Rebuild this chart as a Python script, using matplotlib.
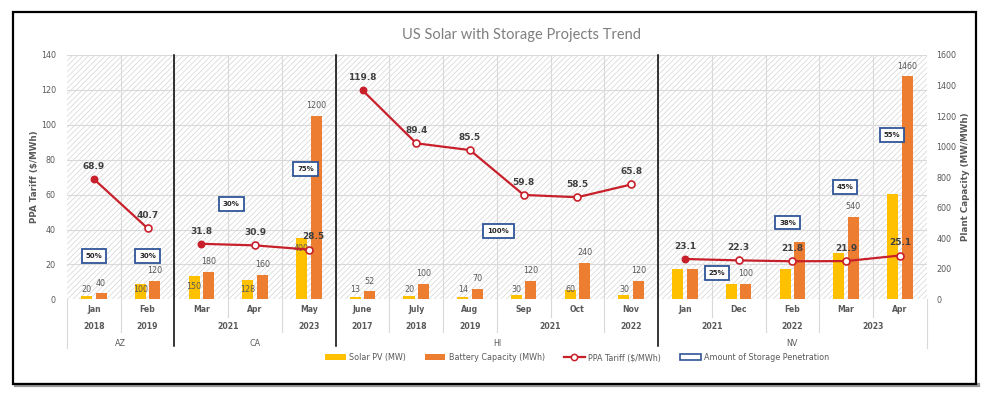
import matplotlib
matplotlib.use("Agg")
import matplotlib.pyplot as plt
from matplotlib.patches import Rectangle, Patch
from matplotlib.lines import Line2D
import matplotlib.transforms as mtransforms

# ---------------- data ----------------
states = ["AZ", "CA", "HI", "NV"]
state_sizes = [2, 3, 6, 5]
months = ["Jan", "Feb", "Mar", "Apr", "May",
          "June", "July", "Aug", "Sep", "Oct", "Nov",
          "Jan", "Dec", "Feb", "Mar", "Apr"]
years = ["2018", "2019", "2021", "2021", "2023",
         "2017", "2018", "2019", "2021", "2021", "2022",
         "2021", "2021", "2022", "2023", "2023"]
solar_pv = [20, 100, 150, 128, 400,
            13, 20, 14, 30, 60, 30,
            200, 100, 200, 300, 690]
battery = [40, 120, 180, 160, 1200,
           52, 100, 70, 120, 240, 120,
           200, 100, 375, 540, 1460]
solar_labels = ["20", "100", "150", "128", "400",
                "13", "20", "14", "30", "60", "30",
                "", "", "", "", ""]
battery_labels = ["40", "120", "180", "160", "1200",
                  "52", "100", "70", "120", "240", "120",
                  "", "100", "", "540", "1460"]
ppa_tariff = [68.9, 40.7, 31.8, 30.9, 28.5,
              119.8, 89.4, 85.5, 59.8, 58.5, 65.8,
              23.1, 22.3, 21.8, 21.9, 25.1]
storage_pct = ["50%", "30%", "30%", "75%", "100%", "25%", "38%", "45%", "55%"]
storage_x = [0.0, 1.0, 2.56, 3.94, 7.53, 11.6, 12.91, 13.98, 14.86]
storage_y = [24.7, 24.7, 54.5, 74.6, 39.3, 14.9, 44.0, 64.4, 94.1]

# ---------------- style ----------------
W, H = 993, 397
DPI = 100
GRAY = "#595959"
DARK = "#404040"
SOLAR_C = "#FFC000"
BATT_C = "#ED7D31"
LINE_C = "#C8202A"
BOX_C = "#2F5597"
FONT = "DejaVu Sans"
plt.rcParams["font.family"] = [FONT]
plt.rcParams["hatch.linewidth"] = 0.45
plt.rcParams["hatch.color"] = "#D0D0D0"

fig = plt.figure(figsize=(W / DPI, H / DPI), dpi=DPI)
fig.patch.set_facecolor("white")

def fx(px):
    return px / W

def fy(py):
    return 1 - py / H

L, R, T, B = 67, 926.7, 55, 299.3
ax = fig.add_axes([fx(L), fy(B), fx(R) - fx(L), fy(T) - fy(B)])
ax2 = ax.twinx()
ax.set_zorder(2)
ax2.set_zorder(1)
ax.patch.set_visible(False)

n = len(months)
ax.set_xlim(-0.5, n - 0.5)
ax.set_ylim(0, 140)
ax2.set_ylim(0, 1600)
ax.set_yticks(range(0, 141, 20))
ax2.set_yticks(range(0, 1601, 200))
for a in (ax, ax2):
    for s in a.spines.values():
        s.set_visible(False)
    a.tick_params(length=0, labelsize=5.8, labelcolor=GRAY)
ax.tick_params(axis="y", pad=8)
ax2.tick_params(axis="y", pad=7)
ax.set_xticks([])

# hatched background
ax2.add_patch(Rectangle((0, 0), 1, 1, transform=ax2.transAxes, facecolor="white",
                        hatch="//////", edgecolor="#D0D0D0", linewidth=0, zorder=0))
# gridlines
for v in range(20, 141, 20):
    ax2.axhline(v * 1600 / 140, color="#D9D9D9", lw=0.8, zorder=0.5)
for b in range(n - 1):
    ax2.axvline(b + 0.5, color="#D9D9D9", lw=0.8, zorder=0.5)

# bars (right axis)
x = list(range(n))
bw = 0.205
off = 0.135
ax2.bar([i - off for i in x], solar_pv, width=bw, color=SOLAR_C, zorder=2)
ax2.bar([i + off for i in x], battery, width=bw, color=BATT_C, zorder=2)
for i in x:
    if solar_labels[i]:
        ax2.text(i - off, max(solar_pv[i] - 65, 61), solar_labels[i], ha="center",
                 va="center", fontsize=5.8, color=GRAY, zorder=3)
    if battery_labels[i]:
        ax2.text(i + off, battery[i] + 66, battery_labels[i], ha="center",
                 va="center", fontsize=5.8, color=GRAY, zorder=3)

# PPA tariff line (left axis), broken per state
start = 0
for sz in state_sizes:
    idx = list(range(start, start + sz))
    ax.plot(idx, [ppa_tariff[i] for i in idx], color=LINE_C, lw=1.6, zorder=4)
    for k, i in enumerate(idx):
        ax.plot(i, ppa_tariff[i], marker="o", ms=5 if k else 4.5,
                mfc=LINE_C if k == 0 else "white", mec=LINE_C, mew=1.2, zorder=5)
        ax.text(i + (0.08 if ppa_tariff[i] == 28.5 else 0), ppa_tariff[i] + 7.3,
                f"{ppa_tariff[i]:.1f}", ha="center", va="center", fontsize=6.5,
                fontweight="bold", color=DARK, zorder=6)
    start += sz

# storage penetration boxes
for px_, py_, t in zip(storage_x, storage_y, storage_pct):
    ax.text(px_, py_, t, ha="center", va="center", fontsize=5, fontweight="bold",
            color="#262626", zorder=7,
            bbox=dict(boxstyle="square,pad=0.55" if t != "100%" else "square,pad=0.6",
                      fc="white", ec=BOX_C, lw=1.3))

# multi-level category axis
bt = mtransforms.blended_transform_factory(ax.transData, ax.transAxes)
ph = B - T

def ay(py):
    return -(py - B) / ph

for i, m in enumerate(months):
    ax.text(i, ay(310), m, transform=bt, ha="center", va="center",
            fontsize=5.6, fontweight="bold", color=GRAY, clip_on=False)

# year runs within states
group_bounds = []
start = 0
for st, sz in zip(states, state_sizes):
    group_bounds.append((start, start + sz))
    ax.text(start + (sz - 1) / 2, ay(343.3), st, transform=bt, ha="center",
            va="center", fontsize=5.8, color=GRAY, clip_on=False)
    i = start
    while i < start + sz:
        j = i
        while j + 1 < start + sz and years[j + 1] == years[i]:
            j += 1
        ax.text((i + j) / 2, ay(326.7), years[i], transform=bt, ha="center",
                va="center", fontsize=5.6, fontweight="bold", color=GRAY, clip_on=False)
        for k in range(i, j):
            ax.plot([k + 0.5, k + 0.5], [0, ay(317)], transform=bt, color="#D9D9D9",
                    lw=0.8, clip_on=False)
        if j + 1 < start + sz:
            ax.plot([j + 0.5, j + 0.5], [0, ay(332)], transform=bt, color="#D9D9D9",
                    lw=0.8, clip_on=False)
        i = j + 1
    start += sz

# group separators (black) and outer edges
for s, e in group_bounds[:-1]:
    ax.plot([e - 0.5, e - 0.5], [1, ay(345.5)], transform=bt, color="black",
            lw=1.1, clip_on=False, zorder=8)
for xe in (-0.5, n - 0.5):
    ax.plot([xe, xe], [0, ay(348)], transform=bt, color="#D9D9D9", lw=0.8,
            clip_on=False)

# axis labels & title
fig.text(fx(35), fy(177), "PPA Tariff ($/MWh)", rotation=90, ha="center",
         va="center", fontsize=6.3, fontweight="bold", color=GRAY)
fig.text(fx(966), fy(177), "Plant Capacity (MW/MWh)", rotation=90, ha="center",
         va="center", fontsize=6.3, fontweight="bold", color=GRAY)
fig.text(fx(521), fy(35), "US Solar with Storage Projects Trend", ha="center",
         va="center", fontsize=10.5, color="#7F7F7F", family="Lato")

# legend
handles = [Patch(facecolor=SOLAR_C, edgecolor="none"),
           Patch(facecolor=BATT_C, edgecolor="none"),
           Line2D([], [], color=LINE_C, lw=1.6, marker="o", ms=4.5, mfc="white",
                  mec=LINE_C, mew=1.1),
           Patch(facecolor="white", edgecolor=BOX_C, lw=1.2)]
labels = ["Solar PV (MW)", "Battery Capacity (MWh)", "PPA Tariff ($/MWh)",
          "Amount of Storage Penetration"]
leg = fig.legend(handles, labels, loc="center", bbox_to_anchor=(fx(577), fy(357.5)),
                 ncol=4, frameon=False, fontsize=5.8, handlelength=2.6,
                 handletextpad=0.45, columnspacing=2.3, handleheight=0.7)
for t in leg.get_texts():
    t.set_color(GRAY)

# outer frame with shadow
fig.patches.append(Rectangle((fx(15), fy(386)), fx(977) - fx(13), fy(12) - fy(14),
                             transform=fig.transFigure, fill=False, ec="#9A9A9A",
                             lw=1.6, zorder=0))
fig.patches.append(Rectangle((fx(13), fy(384)), fx(976) - fx(13), fy(12) - fy(384),
                             transform=fig.transFigure, fill=False, ec="black",
                             lw=1.6, zorder=1))

fig.savefig("out.png", dpi=DPI, facecolor="white")
